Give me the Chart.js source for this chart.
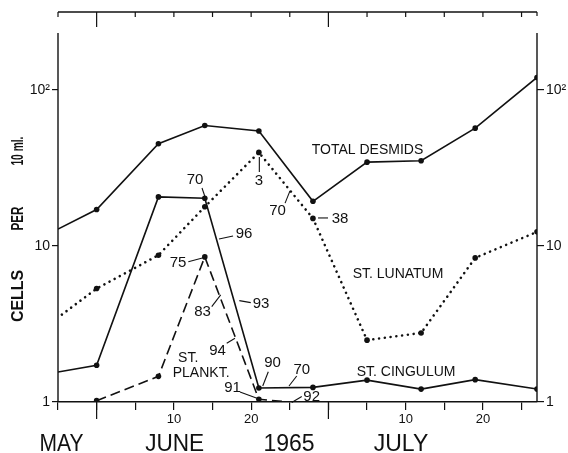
<!DOCTYPE html>
<html><head><meta charset="utf-8">
<script src="https://cdn.jsdelivr.net/npm/chart.js@4/dist/chart.umd.min.js"></script>
<style>html,body{margin:0;padding:0;background:#fff}canvas{display:block}</style>
</head><body>
<canvas id="c" width="568" height="453"></canvas>
<script>
// x = day counted from May 31 (June d = d, July d = 30 + d)
const totalDays     = [-5, 0, 8, 14, 21, 28, 35, 42, 49, 57];
const totalDesmids  = [12.8, 17.1, 45.1, 59.1, 54.4, 19.3, 34.4, 35.1, 56.8, 120];
const lunatumDays   = [-4.5, 0, 8, 14, 21, 28, 35, 42, 49, 57];
const lunatum       = [3.63, 5.33, 8.72, 17.8, 39.7, 15.0, 2.49, 2.77, 8.38, 12.3];
const cingulumDays  = [-5, 0, 8, 14, 21, 28, 35, 42, 49, 57];
const cingulum      = [1.556, 1.72, 20.6, 20.2, 1.23, 1.24, 1.38, 1.21, 1.39, 1.21];
const planktDays    = [0, 8, 14, 21, 25];
const plankt        = [1.02, 1.46, 8.5, 1.04, 1.0];

const xTickValues   = [-5, 0, 5, 10, 15, 20, 25, 30, 35, 40, 45, 50, 55];
const xTickLabels   = {10: '10', 20: '20', 40: '10', 50: '20'};
const longTicks     = [0, 30];
const monthLabels   = ['MAY', 'JUNE', '1965', 'JULY'];
const monthDays     = [-4.55, 10.1, 24.9, 39.4];
const yTickValues   = [1, 10, 100];
const yTickLabels   = {1: '1', 10: '10', 100: '10\u00B2'};

// annotations: text, position (day, value), optional leader line in data units
const notes = [
  {t: '70', d: 12.74, v: 26.4, lead: [[13.64, 23.5], [14.03, 20.6]]},
  {t: '3',  d: 21.02, v: 26.0, lead: [[21.06, 37.1], [21.06, 29.7]]},
  {t: '70', d: 23.41, v: 16.7, lead: [[24.39, 18.8], [25.03, 22.5]]},
  {t: '38', d: 31.5,  v: 15.0, lead: [[28.66, 15.1], [29.95, 15.1]]},
  {t: '96', d: 19.08, v: 11.9, lead: [[15.84, 11.07], [17.66, 11.57]]},
  {t: '75', d: 10.54, v: 7.77, lead: [[11.87, 7.92], [13.81, 8.40]]},
  {t: '83', d: 13.71, v: 3.77, lead: [[14.90, 4.08], [16.06, 4.85]]},
  {t: '93', d: 21.28, v: 4.24, lead: [[18.47, 4.46], [19.95, 4.33]]},
  {t: '94', d: 15.65, v: 2.12, lead: [[16.84, 2.38], [17.91, 2.56]]},
  {t: '90', d: 22.77, v: 1.776, lead: [[22.22, 1.564], [21.5, 1.266]]},
  {t: '91', d: 17.59, v: 1.229, lead: [[18.56, 1.159], [20.76, 1.056]]},
  {t: '70', d: 26.55, v: 1.603, lead: [[25.90, 1.468], [24.9, 1.266]]},
  {t: '92', d: 27.84, v: 1.081, lead: [[26.55, 1.084], [25.25, 0.993]]}
];
const seriesNames = [
  {t: 'TOTAL DESMIDS', d: 35.06, v: 40.8, align: 'center'},
  {t: 'ST. LUNATUM',   d: 39.01, v: 6.61, align: 'center'},
  {t: 'ST. CINGULUM',  d: 40.05, v: 1.557, align: 'center'},
  {t: 'ST.',           d: 10.54, v: 1.91, align: 'left'},
  {t: 'PLANKT.',       d: 9.85,  v: 1.534, align: 'left'}
];
const yTitleWords  = ['CELLS', 'PER', '10 ml.'];
const yTitleValues = [4.78, 14.98, 40.5];

const INK = '#111';
const FONT = "'Liberation Sans', Arial, sans-serif";
Chart.defaults.font.family = FONT;
Chart.defaults.color = INK;

const pts = (xs, ys) => xs.map((x, i) => ({x, y: ys[i]}));
const radii = (n, skip) => Array.from({length: n}, (_, i) => skip.includes(i) ? 0 : 2.8);

const overlay = {
  id: 'overlay',
  afterDraw(chart) {
    const {ctx, chartArea: a, scales: {x, y}} = chart;
    ctx.save();
    ctx.strokeStyle = INK; ctx.fillStyle = INK;
    // top frame line with ticks hanging down
    ctx.lineWidth = 1.4;
    ctx.beginPath(); ctx.moveTo(a.left, a.top); ctx.lineTo(a.right, a.top); ctx.stroke();
    ctx.lineWidth = 1.2;
    xTickValues.forEach(v => {
      const px = x.getPixelForValue(v);
      const len = longTicks.includes(v) ? 15 : 5;
      ctx.beginPath(); ctx.moveTo(px, a.top); ctx.lineTo(px, a.top + len); ctx.stroke();
    });
    ctx.beginPath(); ctx.moveTo(a.right, a.top); ctx.lineTo(a.right, a.top + 4); ctx.stroke();
    // side axes (start below top frame)
    ctx.lineWidth = 1.4;
    [a.left, a.right].forEach(px => {
      ctx.beginPath(); ctx.moveTo(px, a.top + 21); ctx.lineTo(px, a.bottom); ctx.stroke();
    });
    // longer bottom ticks
    ctx.lineWidth = 1.2;
    longTicks.forEach(v => {
      const px = x.getPixelForValue(v);
      ctx.beginPath(); ctx.moveTo(px, a.bottom); ctx.lineTo(px, a.bottom + 17); ctx.stroke();
    });
    // numeric annotations with leaders
    ctx.textBaseline = 'middle';
    ctx.textAlign = 'center';
    ctx.font = '15px ' + FONT;
    ctx.lineWidth = 1.1;
    notes.forEach(n => {
      ctx.fillText(n.t, x.getPixelForValue(n.d), y.getPixelForValue(n.v));
      if (n.lead) {
        ctx.beginPath();
        ctx.moveTo(x.getPixelForValue(n.lead[0][0]), y.getPixelForValue(n.lead[0][1]));
        ctx.lineTo(x.getPixelForValue(n.lead[1][0]), y.getPixelForValue(n.lead[1][1]));
        ctx.stroke();
      }
    });
    // series names
    ctx.font = '14px ' + FONT;
    seriesNames.forEach(s => {
      ctx.textAlign = s.align;
      ctx.fillText(s.t, x.getPixelForValue(s.d), y.getPixelForValue(s.v));
    });
    // month labels
    ctx.textAlign = 'center';
    ctx.textBaseline = 'alphabetic';
    ctx.font = '23px ' + FONT;
    const monthWidths = [44, 59, 54, 58];
    monthLabels.forEach((m, i) => {
      ctx.fillText(m, x.getPixelForValue(monthDays[i]), a.bottom + 49, monthWidths[i]);
    });
    // y title, rotated
    ctx.textBaseline = 'middle';
    const titleWidths = [52, 24, 29];
    ctx.font = 'bold 17px ' + FONT;
    yTitleWords.forEach((w, i) => {
      ctx.save();
      ctx.translate(18, y.getPixelForValue(yTitleValues[i]));
      ctx.rotate(-Math.PI / 2);
      ctx.fillText(w, 0, 0, titleWidths[i]);
      ctx.restore();
    });
    ctx.restore();
  }
};

new Chart(document.getElementById('c'), {
  type: 'line',
  data: {
    datasets: [
      {label: 'TOTAL DESMIDS', data: pts(totalDays, totalDesmids), borderColor: INK, borderWidth: 1.6,
       pointRadius: radii(totalDays.length, [0]), pointBackgroundColor: INK, pointBorderWidth: 0},
      {label: 'ST. LUNATUM', data: pts(lunatumDays, lunatum), borderColor: INK, borderWidth: 2.6,
       borderDash: [0.01, 5.8], borderCapStyle: 'round',
       pointRadius: radii(lunatumDays.length, [0]), pointBackgroundColor: INK, pointBorderWidth: 0},
      {label: 'ST. CINGULUM', data: pts(cingulumDays, cingulum), borderColor: INK, borderWidth: 1.6,
       pointRadius: radii(cingulumDays.length, [0]), pointBackgroundColor: INK, pointBorderWidth: 0},
      {label: 'ST. PLANKT.', data: pts(planktDays, plankt), borderColor: INK, borderWidth: 1.6,
       borderDash: [10, 5],
       pointRadius: radii(planktDays.length, [planktDays.length - 1]), pointBackgroundColor: INK, pointBorderWidth: 0}
    ]
  },
  options: {
    responsive: false, animation: false, devicePixelRatio: 1,
    layout: {padding: {top: 12, left: 0, right: 0, bottom: 0}},
    elements: {line: {tension: 0, fill: false}},
    plugins: {legend: {display: false}, tooltip: {enabled: false}},
    scales: {
      x: {
        type: 'linear', position: 'bottom', min: -5, max: 57,
        afterBuildTicks: s => { s.ticks = xTickValues.map(v => ({value: v})); },
        afterFit: s => { s.height = 51; },
        ticks: {callback: v => xTickLabels[v] ?? '', font: {size: 13}, color: INK, padding: 2,
                maxRotation: 0, autoSkip: false},
        grid: {drawOnChartArea: false, drawTicks: true, tickLength: 8, color: INK, lineWidth: 1.2},
        border: {display: true, color: INK, width: 1.4}
      },
      y: {
        type: 'logarithmic', position: 'left', min: 1, max: 315,
        afterBuildTicks: s => { s.ticks = yTickValues.map(v => ({value: v})); },
        afterFit: s => { s.width = 58; },
        ticks: {callback: v => yTickLabels[v] ?? '', font: {size: 14}, color: INK, padding: 2, autoSkip: false},
        grid: {drawOnChartArea: false, drawTicks: true, tickLength: 6, color: INK, lineWidth: 1.2},
        border: {display: false}
      },
      y2: {
        type: 'logarithmic', position: 'right', min: 1, max: 315,
        afterBuildTicks: s => { s.ticks = yTickValues.map(v => ({value: v})); },
        afterFit: s => { s.width = 31; },
        ticks: {callback: v => yTickLabels[v] ?? '', font: {size: 14}, color: INK, padding: 2, autoSkip: false},
        grid: {drawOnChartArea: false, drawTicks: true, tickLength: 7, color: INK, lineWidth: 1.2},
        border: {display: false}
      }
    }
  },
  plugins: [overlay]
});
</script>
</body></html>
